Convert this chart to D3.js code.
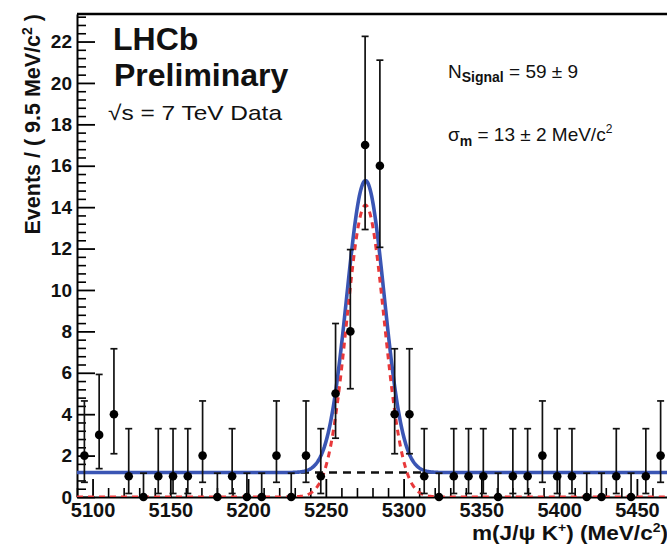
<!DOCTYPE html>
<html><head><meta charset="utf-8">
<script src="https://cdn.jsdelivr.net/npm/d3@7"></script>
<style>
body{margin:0;background:#fff}
svg{display:block;background:#fff}
text{font-family:"Liberation Sans",Arial,Helvetica,sans-serif}
</style>
</head><body>
<svg id="c" width="667" height="545"></svg>
<script>
// ---- data ----
const binCenters = [5094.75,5104.25,5113.75,5123.25,5132.75,5142.25,5151.75,5161.25,5170.75,5180.25,
                    5189.75,5199.25,5208.75,5218.25,5227.75,5237.25,5246.75,5256.25,5265.75,5275.25,
                    5284.75,5294.25,5303.75,5313.25,5322.75,5332.25,5341.75,5351.25,5360.75,5370.25,
                    5379.75,5389.25,5398.75,5408.25,5417.75,5427.25,5436.75,5446.25,5455.75,5465.25];
const counts = [2,3,4,1,0,1,1,1,2,0, 1,0,0,2,0,2,1,5,8,17, 16,4,4,1,0,1,1,1,0,1, 1,2,1,1,0,0,1,0,1,2];
const errLower = [0.71,1.37,2.09,0.17,0,0.17,0.17,0.17,0.71,0, 0.17,0,0,0.71,0,0.71,0.17,2.84,5.23,12.92,
                  12.06,2.09,2.09,0.17,0,0.17,0.17,0.17,0,0.17, 0.17,0.71,0.17,0.17,0,0,0.17,0,0.17,0.71];
const errUpper = [4.64,5.92,7.16,3.30,1.15,3.30,3.30,3.30,4.64,1.15, 3.30,1.15,1.15,4.64,1.15,4.64,3.30,8.38,11.95,22.25,
                  21.10,7.16,7.16,3.30,1.15,3.30,3.30,3.30,1.15,3.30, 3.30,4.64,3.30,3.30,1.15,1.15,3.30,1.15,3.30,4.64];
const yTickValues = [0,2,4,6,8,10,12,14,16,18,20,22];
const yTickLabels = ["0","2","4","6","8","10","12","14","16","18","20","22"];
const xTickValues = [5100,5150,5200,5250,5300,5350,5400,5450];
const xTickLabels = ["5100","5150","5200","5250","5300","5350","5400","5450"];
// fit model parameters (per-bin heights)
const fitMean = 5275.5, fitSigma = 12.0, fitSignalPeak = 14.1, fitBackground = 1.18;

// ---- layout ----
const svg = d3.select("#c");
const X0 = 77, X1 = 668, Y0 = 497, Y1 = 14;
const x = d3.scaleLinear().domain([5090, 5470]).range([X0, X1]);
const y = d3.scaleLinear().domain([0, 23.33]).range([Y0, Y1]);

svg.append("defs").append("clipPath").attr("id","pc")
  .append("rect").attr("x",X0).attr("y",Y1).attr("width",X1-X0).attr("height",Y0-Y1);

// minor ticks
const yMinor = d3.range(0, 23.3, 0.4).filter(v => Math.abs(v/2 - Math.round(v/2)) > 1e-6);
svg.append("g").attr("transform",`translate(${X0},0)`)
  .call(d3.axisLeft(y).tickValues(yMinor).tickSizeInner(-9).tickSizeOuter(0).tickFormat(""))
  .call(g => g.select(".domain").remove())
  .selectAll("line").attr("stroke","#000").attr("stroke-width",1.6);
const xMinor = d3.range(5090, 5470.1, 10).filter(v => v % 50 !== 0);
svg.append("g").attr("transform",`translate(0,${Y0})`)
  .call(d3.axisBottom(x).tickValues(xMinor).tickSizeInner(-9).tickSizeOuter(0).tickFormat(""))
  .call(g => g.select(".domain").remove())
  .selectAll("line").attr("stroke","#000").attr("stroke-width",1.6);

// major axes
const yAxis = svg.append("g").attr("transform",`translate(${X0},0)`)
  .call(d3.axisLeft(y).tickValues(yTickValues).tickSizeInner(-18).tickSizeOuter(0).tickPadding(5)
        .tickFormat((d,i) => yTickLabels[i]));
yAxis.selectAll("line").attr("stroke","#000").attr("stroke-width",1.8);
yAxis.select(".domain").attr("stroke","#000").attr("stroke-width",2);
yAxis.selectAll("text").attr("font-size",19).attr("font-weight","bold").attr("fill","#111");

const xAxis = svg.append("g").attr("transform",`translate(0,${Y0})`)
  .call(d3.axisBottom(x).tickValues(xTickValues).tickSizeInner(-18).tickSizeOuter(0).tickPadding(6)
        .tickFormat((d,i) => xTickLabels[i]));
xAxis.selectAll("line").attr("stroke","#000").attr("stroke-width",1.8);
xAxis.select(".domain").attr("stroke","#000").attr("stroke-width",2);
xAxis.selectAll("text").attr("font-size",20).attr("font-weight","bold").attr("fill","#111");

// frame top / right
svg.append("line").attr("x1",X0).attr("x2",X1).attr("y1",Y1).attr("y2",Y1)
  .attr("stroke","#000").attr("stroke-width",2.5);
svg.append("line").attr("x1",X1).attr("x2",X1).attr("y1",Y1).attr("y2",Y0)
  .attr("stroke","#000").attr("stroke-width",2);

// ---- fit curves ----
const masses = d3.range(5090, 5470.01, 0.5);
const sig = m => fitSignalPeak * Math.exp(-0.5 * ((m - fitMean)/fitSigma) ** 2);
const plot = svg.append("g").attr("clip-path","url(#pc)");
const line = d3.line().x(d => x(d[0])).y(d => y(d[1]));

plot.append("path").datum(masses.map(m => [m, fitBackground]))
  .attr("d", line).attr("fill","none").attr("stroke","#111")
  .attr("stroke-width",2.5).attr("stroke-dasharray","8,6");
plot.append("path").datum(masses.map(m => [m, fitBackground + sig(m)]))
  .attr("d", line).attr("fill","none").attr("stroke","#3a55b4").attr("stroke-width",3.6);
plot.append("path").datum(masses.map(m => [m, sig(m)]))
  .attr("d", line).attr("fill","none").attr("stroke","#e8383a")
  .attr("stroke-width",3).attr("stroke-dasharray","6,5");

// ---- data points ----
const pts = binCenters.map((c,i) => ({c, n: counts[i], lo: errLower[i], hi: errUpper[i]}));
const eb = plot.append("g").selectAll("g").data(pts).join("g");
eb.append("line").attr("x1",d=>x(d.c)).attr("x2",d=>x(d.c))
  .attr("y1",d=>y(d.lo)).attr("y2",d=>y(d.hi)).attr("stroke","#111").attr("stroke-width",1.7);
eb.append("line").attr("x1",d=>x(d.c)-3.5).attr("x2",d=>x(d.c)+3.5)
  .attr("y1",d=>y(d.hi)).attr("y2",d=>y(d.hi)).attr("stroke","#111").attr("stroke-width",1.7);
eb.append("line").attr("x1",d=>x(d.c)-3.5).attr("x2",d=>x(d.c)+3.5)
  .attr("y1",d=>y(d.lo)).attr("y2",d=>y(d.lo)).attr("stroke","#111").attr("stroke-width",1.7);
svg.append("g").selectAll("circle").data(pts).join("circle")
  .attr("cx",d=>x(d.c)).attr("cy",d=>y(d.n)).attr("r",4.3).attr("fill","#000");

// ---- texts ----
svg.append("text").attr("x",113).attr("y",50).attr("font-size",32).attr("font-weight","bold")
  .attr("fill","#111").text("LHCb");
svg.append("text").attr("x",114).attr("y",86).attr("font-size",32).attr("font-weight","bold")
  .attr("fill","#111").text("Preliminary");
svg.append("text").attr("x",108).attr("y",120).attr("font-size",21).attr("fill","#111")
  .attr("textLength",174).attr("lengthAdjust","spacingAndGlyphs").text("√s = 7 TeV Data");

const t1 = svg.append("text").attr("x",448).attr("y",78).attr("font-size",19).attr("fill","#111");
t1.append("tspan").text("N");
t1.append("tspan").attr("font-size",14).attr("font-weight","bold").attr("dy",4).text("Signal");
t1.append("tspan").attr("dy",-4).text(" = 59 ± 9");

const t2 = svg.append("text").attr("x",448).attr("y",141).attr("font-size",19).attr("fill","#111");
t2.append("tspan").text("σ");
t2.append("tspan").attr("font-size",14).attr("font-weight","bold").attr("dy",5).text("m");
t2.append("tspan").attr("dy",-5).text(" = 13 ± 2 MeV/c");
t2.append("tspan").attr("font-size",12).attr("dy",-8).text("2");

const yt = svg.append("text").attr("transform","translate(40,14) rotate(-90)")
  .attr("text-anchor","end").attr("font-size",21.5).attr("font-weight","bold").attr("fill","#111");
yt.append("tspan").text("Events / ( 9.5 MeV/c");
yt.append("tspan").attr("font-size",14).attr("dy",-8).text("2");
yt.append("tspan").attr("dy",8).text(" )");

const xt = svg.append("text").attr("x",472).attr("y",540)
  .attr("font-size",21).attr("font-weight","bold").attr("fill","#111")
  .attr("textLength",196).attr("lengthAdjust","spacingAndGlyphs");
xt.append("tspan").text("m(J/ψ K");
xt.append("tspan").attr("font-size",13).attr("dy",-8).text("+");
xt.append("tspan").attr("dy",8).text(") (MeV/c");
xt.append("tspan").attr("font-size",13).attr("dy",-8).text("2");
xt.append("tspan").attr("dy",8).text(")");
</script>
</body></html>
